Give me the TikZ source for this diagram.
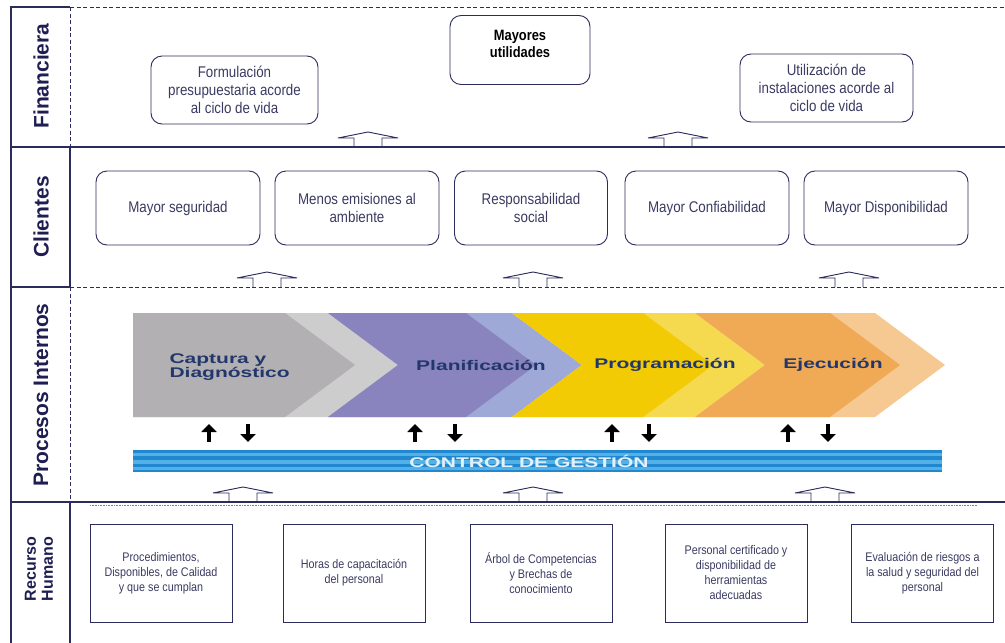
\documentclass[tikz,border=0pt]{standalone}
\usepackage{fontspec}
\setmainfont{Liberation Sans}
\newfontfamily\nar{Liberation Sans}[FakeStretch=0.86]
\newfontfamily\widef{Liberation Sans}[FakeStretch=1.5]
\usetikzlibrary{arrows.meta}
\definecolor{navy}{HTML}{2B2B5C}
\definecolor{labc}{HTML}{1E1E52}
\definecolor{txtc}{HTML}{3A3A62}
\definecolor{stagec}{HTML}{22376B}
\definecolor{gD}{HTML}{B2B0B2}
\definecolor{gL}{HTML}{CDCDCD}
\definecolor{pD}{HTML}{8A84BE}
\definecolor{pL}{HTML}{9EA9D8}
\definecolor{yD}{HTML}{F2CB05}
\definecolor{yL}{HTML}{F5D94F}
\definecolor{oD}{HTML}{F0A955}
\definecolor{oL}{HTML}{F6C993}
\definecolor{cb1}{HTML}{2188D0}
\definecolor{cb2}{HTML}{52B2E8}
\definecolor{cbt}{HTML}{E2F1FB}
\tikzset{
  frame/.style={draw=navy, line width=1.1pt},
  dframe/.style={draw=navy, line width=1.0pt, dash pattern=on 4pt off 2.5pt},
  lab/.style={text=labc, font=\bfseries\fontsize{21}{24}\selectfont, rotate=90},
  labsmall/.style={text=labc, font=\bfseries\fontsize{16}{17}\selectfont, rotate=90, align=center},
  rbox/.style={draw=navy, line width=0.9pt, rounded corners=11pt, minimum width=164pt,
    minimum height=74pt, align=center, text=txtc, inner sep=2pt,
    font=\nar\fontsize{15.5}{18}\selectfont},
  sbox/.style={draw=navy, line width=0.9pt, minimum width=142pt, minimum height=98pt,
    align=center, text=txtc, inner sep=2pt, font=\nar\fontsize{12.5}{15}\selectfont},
  stagelab/.style={text=stagec, font=\widef\bfseries\fontsize{14}{13}\selectfont, align=left},
  blk/.style={draw=black, line width=4pt, -{Triangle[width=15pt,length=8pt]}},
  hollow/.pic={\draw[navy, line width=0.9pt] (-14,0) -- (-14,-9) -- (-30,-9) -- (0,-15)
      -- (30,-9) -- (14,-9) -- (14,0);}
}
\begin{document}
\begin{tikzpicture}[x=1pt,y=-1pt]
\useasboundingbox (0,0) rectangle (1005,643);
% frame lines
\draw[frame] (11,643) -- (11,7) -- (70,7);
\draw[dframe] (70,7) -- (1005,7);
\draw[frame] (11,147) -- (1005,147);
\draw[frame] (11,287) -- (70,287);
\draw[dframe] (70,287) -- (1005,287);
\draw[frame] (11,502) -- (1005,502);
\draw[navy!60, line width=0.6pt, dash pattern=on 0.8pt off 0.8pt] (90,505) -- (977,505);
\draw[dframe] (70,7) -- (70,147);
\draw[frame] (70,147) -- (70,287);
\draw[dframe] (70,287) -- (70,502);
\draw[frame, line width=1.7pt] (70,502) -- (70,643);

% band labels
\node[lab] (lfin) at (41,76) {Financiera};
\node[lab] (lcli) at (41,217) {Clientes};
\node[lab] (lpro) at (41,395) {Procesos Internos};
\node[labsmall] (lrh) at (39,569) {Recurso\\Humano};

% Financiera
\node[rbox, minimum width=167pt, minimum height=68pt] (f1) at (234.5,90) {Formulación\\presupuestaria acorde\\al ciclo de vida};
\node[rbox, minimum width=140pt, minimum height=69pt, text=black,
      font=\nar\bfseries\fontsize{15}{17}\selectfont] (f2) at (520,50) {Mayores\\utilidades\\[-4pt]};
\node[rbox, minimum width=173pt, minimum height=68pt] (f3) at (826.5,88) {Utilización de\\instalaciones acorde al\\ciclo de vida};
\pic at (368,147) {hollow};
\pic at (678,147) {hollow};

% Clientes
\node[rbox] (c1) at (178,208) {Mayor seguridad};
\node[rbox] (c2) at (357,208) {Menos emisiones al\\ambiente};
\node[rbox, minimum width=153pt] (c3) at (531,208) {Responsabilidad\\social};
\node[rbox] (c4) at (707,208) {Mayor Confiabilidad};
\node[rbox] (c5) at (886,208) {Mayor Disponibilidad};
\pic at (267,287) {hollow};
\pic at (533,287) {hollow};
\pic at (849,287) {hollow};

% Procesos internos chevrons
\fill[gL] (133,313) -- (328,313) -- (398,365) -- (328,417) -- (133,417) -- cycle;
\fill[gD] (133,313) -- (285,313) -- (355,365) -- (285,417) -- (133,417) -- cycle;
\fill[pL] (328,313) -- (512,313) -- (582,365) -- (512,417) -- (328,417) -- (398,365) -- cycle;
\fill[pD] (328,313) -- (466,313) -- (536,365) -- (466,417) -- (328,417) -- (398,365) -- cycle;
\fill[yL] (512,313) -- (695,313) -- (765,365) -- (695,417) -- (512,417) -- (582,365) -- cycle;
\fill[yD] (512,313) -- (643,313) -- (713,365) -- (643,417) -- (512,417) -- (582,365) -- cycle;
\fill[oL] (695,313) -- (875,313) -- (945,365) -- (875,417) -- (695,417) -- (765,365) -- cycle;
\fill[oD] (695,313) -- (830,313) -- (900,365) -- (830,417) -- (695,417) -- (765,365) -- cycle;
\node[stagelab, anchor=west] (s1) at (166,367) {Captura y\\Diagnóstico};
\node[stagelab] (s2) at (481,365) {Planificación};
\node[stagelab] (s3) at (665,365) {Programación};
\node[stagelab] (s4) at (833,365) {Ejecución};

% small arrows
\foreach \u/\d in {209/248, 415/455, 612/649, 788/828}{
  \draw[blk] (\u,442) -- (\u,424);
  \draw[blk] (\d,424) -- (\d,442);
}

% control bar
\fill[cb1] (133,450) rectangle (942,472);
\fill[cb2] (133,452.5) rectangle (942,456);
\fill[cb2] (133,459.5) rectangle (942,463.5);
\fill[cb2] (133,467) rectangle (942,470);
\node[text=cbt, font=\widef\bfseries\fontsize{14}{14}\selectfont] (ctrl) at (529,461) {CONTROL DE GESTIÓN};
\pic at (243,502) {hollow};
\pic at (533,502) {hollow};
\pic at (825,502) {hollow};

% Recurso humano
\node[sbox] (r1) at (161,573) {Procedimientos,\\Disponibles, de Calidad\\y que se cumplan};
\node[sbox] (r2) at (354,573) {Horas de capacitación\\del personal};
\node[sbox] (r3) at (541,573) {Árbol de Competencias\\y Brechas de\\conocimiento};
\node[sbox] (r4) at (736,573) {Personal certificado y\\disponibilidad de\\herramientas\\adecuadas};
\node[sbox] (r5) at (922.5,573) {Evaluación de riesgos a\\la salud y seguridad del\\personal};
\end{tikzpicture}
\end{document}
